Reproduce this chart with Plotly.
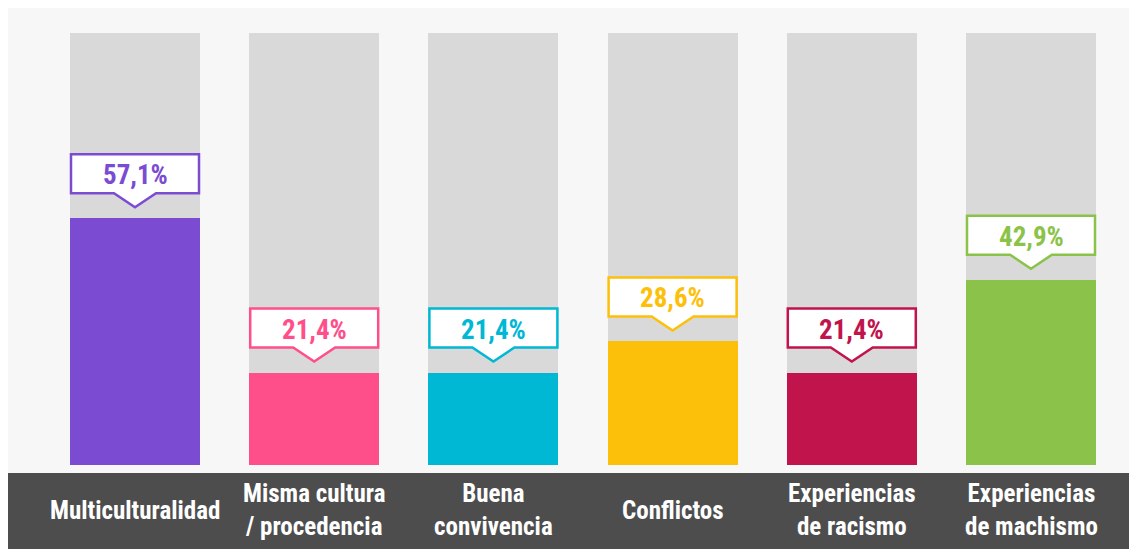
import plotly.graph_objects as go

categories = ["Multiculturalidad", "Misma cultura<br>/ procedencia", "Buena<br>convivencia",
              "Conflictos", "Experiencias<br>de racismo", "Experiencias<br>de machismo"]
values = [57.1, 21.4, 21.4, 28.6, 21.4, 42.9]
track = [100, 100, 100, 100, 100, 100]
colors = ["#7b4cd2", "#ff4f8a", "#00b8d4", "#fdc00a", "#c1134c", "#8bc34a"]

FONT = "Roboto Condensed, Liberation Sans Narrow, Roboto, sans-serif"
W, H = 1129, 541
idx = list(range(len(categories)))

# axis ranges so bar centers / 0-100 scale land on the reference pixels
step = 179.2
xr = [-127 / step, (W - 127) / step]
span = 100 * H / 432.0
y0 = -(H - 457) / 432.0 * 100
yr = [y0, y0 + span]

fig = go.Figure()
fig.add_trace(go.Bar(x=idx, y=track, marker=dict(color="#d9d9d9", line_width=0),
                     width=130 / step, hoverinfo="skip", showlegend=False))
fig.add_trace(go.Bar(x=idx, y=values, marker=dict(color=colors, line_width=0),
                     width=130 / step, showlegend=False))

shapes = [
    dict(type="rect", xref="paper", yref="paper", x0=0, x1=1, y0=0, y1=(H - 465) / H,
         fillcolor="#4d4d4d", line_width=0, layer="below"),
]
annotations = []
for i, (v, c) in enumerate(zip(values, colors)):
    shapes.append(dict(
        type="path", xref="x", yref="y", xsizemode="pixel", ysizemode="pixel",
        xanchor=i, yanchor=v,
        path="M -64,25 L -21,25 L 0,11 L 21,25 L 64,25 L 64,64 L -64,64 Z",
        fillcolor="white", line=dict(color=c, width=2.5), layer="above"))
    annotations.append(dict(
        x=i, y=v, xref="x", yref="y", yshift=43, showarrow=False,
        xanchor="center", yanchor="middle",
        text=f"<b>{v:.1f}%</b>".replace(".", ","),
        font=dict(family=FONT, size=27, color=c)))
    annotations.append(dict(
        x=i, y=1 - 502 / H, xref="x", yref="paper", showarrow=False,
        xanchor="center", yanchor="middle",
        text=f"<b>{categories[i]}</b>", align="center",
        font=dict(family=FONT, size=25, color="white")))

fig.update_layout(
    width=W, height=H, margin=dict(l=0, r=0, t=0, b=0),
    paper_bgcolor="#f7f7f7", plot_bgcolor="rgba(0,0,0,0)",
    barmode="overlay", bargap=0,
    xaxis=dict(range=xr, visible=False, fixedrange=True),
    yaxis=dict(range=yr, visible=False, fixedrange=True),
    shapes=shapes, annotations=annotations,
)
fig.write_html("out.html")
